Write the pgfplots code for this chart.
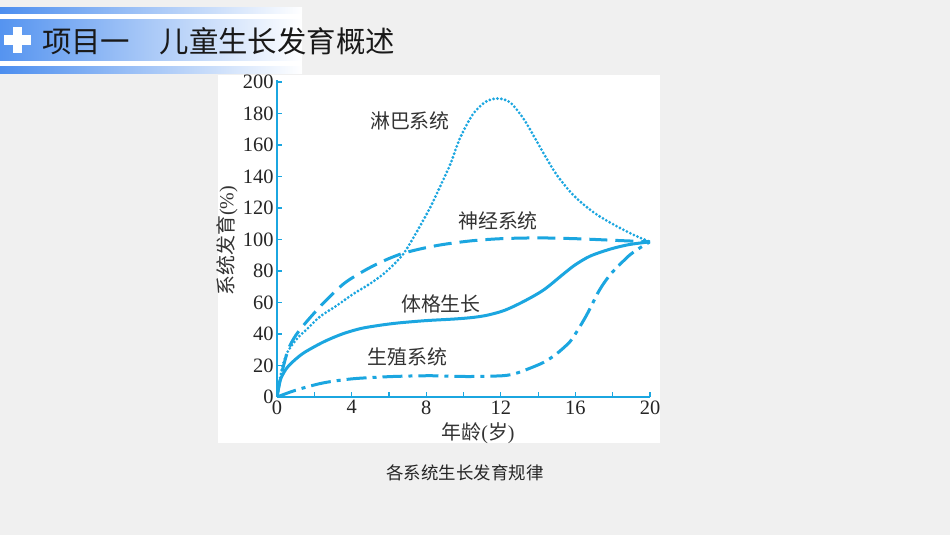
\documentclass[border=0pt]{standalone}
\usepackage{fontspec}
\setmainfont{Liberation Serif}
\newfontfamily\cjk{Noto Sans CJK SC}
\usepackage{pgfplots}
\pgfplotsset{compat=1.18}

\definecolor{curve}{HTML}{1BA6E0}
\definecolor{slidebg}{HTML}{F0F0F0}
\definecolor{barblue}{HTML}{4C8EEF}
\definecolor{labelgray}{HTML}{333333}

\begin{document}
\begin{tikzpicture}[x=1bp,y=1bp]

% slide background and header
\fill[slidebg] (0,0) rectangle (950,535);
\fill[white] (0,461) rectangle (302,528);
\shade[left color=barblue, right color=white] (0,521) rectangle (302,527.7);
\shade[left color=barblue!95!white, middle color=barblue!50!white, right color=white] (0,474.3) rectangle (302,515);
\shade[left color=barblue, right color=white] (0,461) rectangle (302,468.3);
\fill[white] (4,490.3) rectangle (31,499.7);
\fill[white] (12.8,481.7) rectangle (22.2,508.3);
\node[anchor=west, inner sep=0, text=black!90] at (42,494)
  {\cjk\fontsize{29.5}{30}\selectfont 项目一\hspace{1em}儿童生长发育概述};

% white panel and caption
\fill[white] (217.7,92.3) rectangle (660,460);
\node[text=black!85] at (465,62.3) {\cjk\fontsize{17.5}{18}\selectfont 各系统生长发育规律};

\begin{axis}[
  at={(277bp,138bp)}, anchor=south west,
  scale only axis, width=373bp, height=316.6bp,
  xmin=0, xmax=20, ymin=0, ymax=201,
  axis x line=bottom, axis y line=left,
  axis line style={curve, line width=1.4bp, -},
  xtick={0,2,...,20}, xticklabels={0,,4,,8,,12,,16,,20},
  ytick={0,20,...,200},
  tick align=inside,
  major tick length=5bp,
  tick style={curve, line width=1.2bp},
  tick label style={font=\fontsize{20.5}{21}\selectfont, text=black!85},
  /pgf/number format/assume math mode=true,
  xlabel={{\cjk 年龄}({\cjk 岁})},
  ylabel={{\cjk 系统发育}(\%)},
  label style={font=\fontsize{20}{20}\selectfont, text=labelgray},
  xlabel style={at={(axis description cs:0.539,-0.114)}, anchor=center, inner sep=0},
  ylabel style={at={(axis description cs:-0.134,0.494)}, anchor=center, inner sep=0},
]

% lymphatic system (dotted)
\addplot[curve, smooth, dash pattern=on 0bp off 3.9bp, line cap=round, line width=3.1bp] coordinates {
  (0,0) (0.25,17) (0.52,27.5) (0.87,34) (1.23,39) (1.6,43) (2.3,51)
  (3.2,58) (4.1,65.5) (5.0,72) (5.8,79) (6.5,87) (6.9,93) (7.5,105)
  (8.2,120) (8.8,135) (9.3,148) (9.8,164) (10.5,179.5) (11.2,187.5)
  (11.85,189.5) (12.5,187) (13.2,177) (13.8,165) (14.4,152.5) (15.0,141)
  (15.9,128) (17.0,117) (18.2,108.5) (19.2,102.5) (20,98.5)
};

% nervous system (dashed)
\addplot[curve, smooth, line width=3bp, dash pattern=on 18bp off 8bp] coordinates {
  (0,0) (0.25,15) (0.6,30) (1.0,39) (1.6,48) (2.6,61) (3.7,73)
  (5.2,83.5) (6.7,91) (8.5,96) (10.3,99) (12,100.5) (14,101)
  (16,100.5) (18,99.5) (20,98.5)
};

% physical growth (solid)
\addplot[curve, smooth, line width=3bp, solid] coordinates {
  (0,0) (0.15,10) (0.5,18) (1.0,24) (1.5,28.5) (2.5,35) (3.5,40)
  (4.5,43.5) (5.5,45.5) (6.5,47) (8.0,48.5) (9.5,49.5) (10.5,50.5)
  (11.3,52) (12.2,55) (13.2,60.5) (14.3,68) (15.4,78.5) (16.0,84)
  (16.8,89.5) (17.9,94) (18.9,96.8) (20,98.5)
};

% reproductive system (dash dot)
\addplot[curve, smooth, line width=3bp, dash pattern=on 20bp off 6bp on 4bp off 6bp] coordinates {
  (0,0) (1.0,4.3) (2.3,8.5) (3.3,10.5) (4.3,11.8) (6.2,13) (8.2,13.5)
  (10.2,13) (12.1,13.5) (12.8,15) (13.4,17.5) (14.3,22) (15.0,27.5)
  (15.7,35) (16.1,42) (16.6,52) (17.2,66) (17.6,73.5) (18.0,79.5)
  (18.5,85.5) (18.95,90.5) (19.5,95) (20,98.5)
};

\node[text=labelgray, font=\cjk\fontsize{20}{20}\selectfont] at (axis cs:7.13,175.2) {淋巴系统};
\node[text=labelgray, font=\cjk\fontsize{20}{20}\selectfont] at (axis cs:11.85,111.5) {神经系统};
\node[text=labelgray, font=\cjk\fontsize{20}{20}\selectfont] at (axis cs:8.79,58.9) {体格生长};
\node[text=labelgray, font=\cjk\fontsize{20}{20}\selectfont] at (axis cs:7.0,25.3) {生殖系统};

\end{axis}
\end{tikzpicture}
\end{document}
